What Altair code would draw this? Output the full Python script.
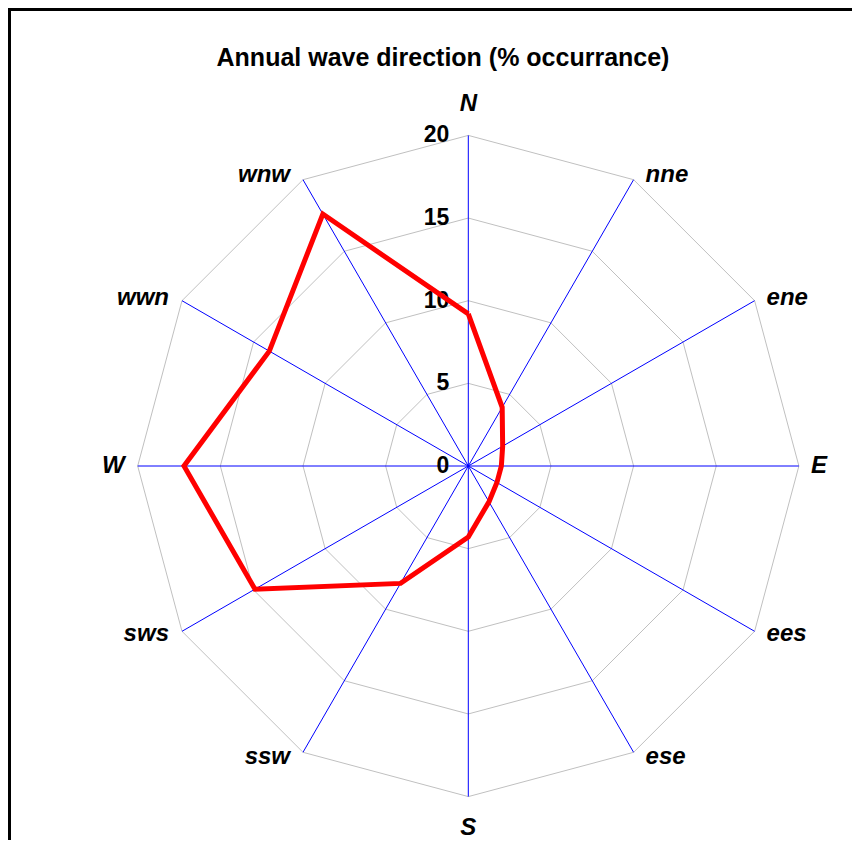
import altair as alt
import pandas as pd

# ---- data ----
directions = ["N", "nne", "ene", "E", "ees", "ese", "S", "ssw", "sws", "W", "wwn", "wnw"]
values = [9.2, 4.1, 2.4, 2.0, 2.0, 2.5, 4.3, 8.2, 14.9, 17.2, 13.9, 17.6]
ticks = [0, 5, 10, 15, 20]
title_text = "Annual wave direction (% occurrance)"

# ---- layout ----
W_PX, H_PX = 844, 832
CX, CY = 460.3, 458.0      # centre of the web inside the plot area (px)
PPU = 16.53                # pixels per unit
RMAX = max(ticks)
n = len(directions)

xdom = [-CX / PPU, (W_PX - CX) / PPU]
ydom = [-(H_PX - CY) / PPU, CY / PPU]
xs = alt.Scale(domain=xdom, nice=False, zero=False)
ys = alt.Scale(domain=ydom, nice=False, zero=False)

FONT = "Liberation Sans"

# tables built from the arrays
dir_df = pd.DataFrame({"dir": directions, "idx": list(range(n))})
val_df = pd.DataFrame({"dir": directions + [directions[0]],
                       "idx": list(range(n + 1)),
                       "v": values + [values[0]]})
grid_df = pd.DataFrame([{"ring": r, "idx": i} for r in ticks[1:] for i in range(n + 1)])
tick_df = pd.DataFrame({"t": ticks})

ANG = f"datum.idx * 2 * PI / {n}"

grid = alt.Chart(grid_df).transform_calculate(
    a=ANG
).transform_calculate(
    gx="datum.ring * sin(datum.a)", gy="datum.ring * cos(datum.a)"
).mark_line(color="#C0C0C0", strokeWidth=1).encode(
    x=alt.X("gx:Q", scale=xs, axis=None),
    y=alt.Y("gy:Q", scale=ys, axis=None),
    detail="ring:N",
    order="idx:Q",
)

spokes = alt.Chart(dir_df).transform_calculate(
    a=ANG
).transform_calculate(
    sx=f"{RMAX} * sin(datum.a)", sy=f"{RMAX} * cos(datum.a)", z="0"
).mark_rule(color="#0000FF", strokeWidth=1).encode(
    x=alt.X("z:Q", scale=xs, axis=None),
    y=alt.Y("z:Q", scale=ys, axis=None),
    x2="sx:Q",
    y2="sy:Q",
)

tick_labels = alt.Chart(tick_df).transform_calculate(
    z="0"
).mark_text(align="right", baseline="middle", dx=-19, font=FONT,
            fontSize=23, fontWeight="bold", color="black").encode(
    x=alt.X("z:Q", scale=xs, axis=None),
    y=alt.Y("t:Q", scale=ys, axis=None),
    text="t:Q",
)

line = alt.Chart(val_df).transform_calculate(
    a=ANG
).transform_calculate(
    px="datum.v * sin(datum.a)", py="datum.v * cos(datum.a)"
).mark_line(color="#FF0000", strokeWidth=5, strokeJoin="miter").encode(
    x=alt.X("px:Q", scale=xs, axis=None),
    y=alt.Y("py:Q", scale=ys, axis=None),
    order="idx:Q",
)

def dir_labels(filter_expr, align, dx, yoff_expr):
    return alt.Chart(dir_df).transform_filter(filter_expr).transform_calculate(
        a=ANG
    ).transform_calculate(
        lx=f"{RMAX} * sin(datum.a)", ly=f"{RMAX} * cos(datum.a) + {yoff_expr}"
    ).mark_text(align=align, baseline="middle", dx=dx, font=FONT, fontSize=24,
                fontWeight="bold", fontStyle="italic", color="black").encode(
        x=alt.X("lx:Q", scale=xs, axis=None),
        y=alt.Y("ly:Q", scale=ys, axis=None),
        text="dir:N",
    )

half = n // 2
right_lab = dir_labels(f"datum.idx > 0 && datum.idx < {half}", "left", 12, "0.35 * cos(datum.a)")
left_lab = dir_labels(f"datum.idx > {half}", "right", -13, "0.35 * cos(datum.a)")
ns_lab = dir_labels(f"datum.idx == 0 || datum.idx == {half}", "center", 0, "1.9 * cos(datum.a)")

frame_left = alt.Chart(tick_df).mark_rule(color="black", strokeWidth=3).encode(
    x=alt.value(1.5), y=alt.value(0), y2=alt.value(H_PX))
frame_top = alt.Chart(tick_df).mark_rule(color="black", strokeWidth=3).encode(
    x=alt.value(0), x2=alt.value(W_PX), y=alt.value(1.5))

chart = alt.layer(
    grid, spokes, tick_labels, line, right_lab, left_lab, ns_lab, frame_left, frame_top
).properties(
    width=W_PX, height=H_PX,
    autosize=alt.AutoSizeParams(type="none"),
    padding=0,
    title=alt.TitleParams(title_text, font=FONT, fontSize=25, fontWeight="bold",
                          color="black", anchor="middle", frame="group",
                          offset=-64, dx=13),
).configure_view(strokeWidth=0).configure(background="white")

chart.save("out.html", embed_options={"renderer": "svg", "actions": False})
